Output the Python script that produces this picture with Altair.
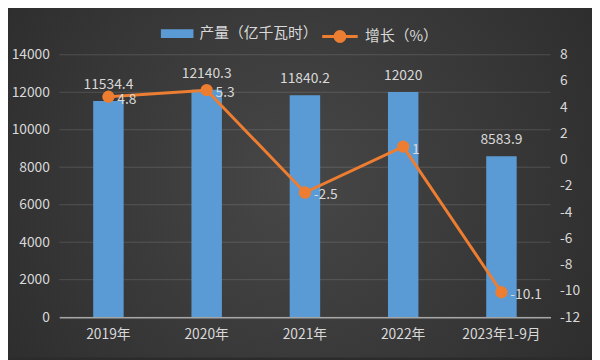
import altair as alt
import pandas as pd

years = ["2019年", "2020年", "2021年", "2022年", "2023年1-9月"]
output = [11534.4, 12140.3, 11840.2, 12020, 8583.9]
growth = [4.8, 5.3, -2.5, 1, -10.1]
output_labels = ["11534.4", "12140.3", "11840.2", "12020", "8583.9"]
growth_labels = ["4.8", "5.3", "-2.5", "1", "-10.1"]
left_ticks = [0, 2000, 4000, 6000, 8000, 10000, 12000, 14000]
right_ticks = [-12, -10, -8, -6, -4, -2, 0, 2, 4, 6, 8]

df = pd.DataFrame({
    "year": years, "output": output, "growth": growth,
    "olab": output_labels, "glab": growth_labels,
    "s1": ["产量（亿千瓦时）"] * 5, "s2": ["增长（%）"] * 5,
})
grid_df = pd.DataFrame({"output": left_ticks})
bg_df = pd.DataFrame({"a": [0]})

FONT = "Noto Sans CJK SC"
TXT = "#d9d9d9"
FS = 14
W, H = 498, 266

x = alt.X("year:N", sort=years, title=None,
          scale=alt.Scale(paddingInner=0.69, paddingOuter=0.345),
          axis=alt.Axis(labelAngle=0, labelFontSize=FS, labelColor=TXT, labelFont=FONT,
                        domainColor="#a6a6a6", domainWidth=1.5, ticks=False, labelPadding=11,
                        zindex=1))

lscale = alt.Scale(domain=[0, 14000], nice=False)
laxis = alt.Axis(values=left_ticks, labelFontSize=FS, labelColor=TXT,
                 labelFont=FONT, ticks=False, domain=False, labelPadding=10,
                 grid=False, labelExpr="'' + datum.value", zindex=1)
yl = alt.Y("output:Q", title=None, scale=lscale, axis=laxis)

yr = alt.Y("growth:Q", title=None,
           scale=alt.Scale(domain=[-12, 8], nice=False),
           axis=alt.Axis(orient="right", values=right_ticks, labelFontSize=FS,
                         labelColor=TXT, labelFont=FONT, ticks=False, domain=False,
                         grid=False, labelPadding=9, labelExpr="'' + datum.value",
                         zindex=1))

bar_sym = "M-1,-0.27H1V0.27H-1Z"
line_sym = "M-1,0H1M0.28,0A0.28,0.28,0,1,1,-0.28,0A0.28,0.28,0,1,1,0.28,0"

background = alt.Chart(bg_df).mark_rect(
    color=alt.Gradient(gradient="radial", x1=0.5, y1=0.5, r1=0, x2=0.5, y2=0.5, r2=0.75,
                       stops=[alt.GradientStop(offset=0, color="#474747"),
                              alt.GradientStop(offset=1, color="#262626")])
).encode(x=alt.value(-60), x2=alt.value(W + 42), y=alt.value(-53), y2=alt.value(H + 41))

grid = alt.Chart(grid_df).mark_rule(color="#ffffff", opacity=0.14, strokeWidth=1).encode(
    y=alt.Y("output:Q", title=None, scale=lscale, axis=laxis),
    x=alt.value(0), x2=alt.value(W))

bars = alt.Chart(df).mark_bar(color="#5b9bd5").encode(
    x=x, y=yl,
    color=alt.Color("s1:N", scale=alt.Scale(range=["#5b9bd5"]),
                    legend=alt.Legend(orient="none", legendX=103, legendY=-38, title=None,
                                      symbolType=bar_sym, symbolSize=1089, labelFontSize=15,
                                      labelColor=TXT, labelFont=FONT, symbolStrokeWidth=0,
                                      labelOffset=6)),
)
bar_text = alt.Chart(df).mark_text(baseline="bottom", dy=-9, fontSize=FS, font=FONT,
                                   color=TXT).encode(x=x, y=yl, text="olab:N")

line = alt.Chart(df).mark_line(strokeWidth=3, point=alt.OverlayMarkDef(
    filled=True, size=110, color="#ed7d31")).encode(
    x=x, y=yr,
    stroke=alt.Stroke("s2:N", scale=alt.Scale(range=["#ed7d31"]),
                      legend=alt.Legend(orient="none", legendX=265, legendY=-38, title=None,
                                        symbolType=line_sym, symbolSize=1296,
                                        symbolStrokeWidth=3, symbolFillColor="#ed7d31",
                                        labelFontSize=15, labelColor=TXT, labelFont=FONT,
                                        labelOffset=6)),
)
line_text = alt.Chart(df).mark_text(align="left", baseline="middle", dx=9, dy=3,
                                    fontSize=FS, font=FONT, color=TXT).encode(
    x=x, y=yr, text="glab:N")

left = alt.layer(background, grid, bars, bar_text)
right = alt.layer(line, line_text)

chart = alt.layer(left, right).resolve_scale(y="independent", color="independent").properties(
    width=W, height=H,
    background="#2b2b2b",
    padding={"left": 52, "top": 45, "right": 42, "bottom": 41},
    autosize=alt.AutoSizeParams(type="none"),
).configure_view(stroke=None)

chart.save("out.html", embed_options={"renderer": "svg", "actions": False})
